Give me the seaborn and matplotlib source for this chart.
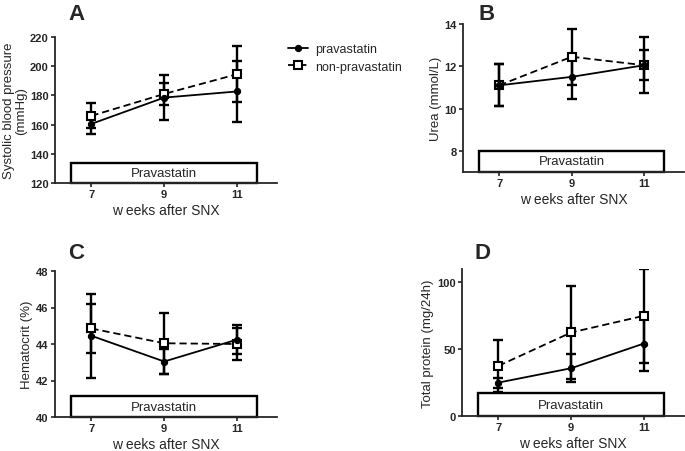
import pandas as pd
import seaborn as sns
import matplotlib.pyplot as plt
from matplotlib.patches import Rectangle

# Data (mean and SD per time point)
weeks = [7, 9, 11]
groups = ["pravastatin", "non-pravastatin"]

sbp_prava = [160.5, 178.5, 182.7]
sbp_prava_sd = [7.0, 15.3, 20.7]
sbp_non = [166.0, 181.0, 194.5]
sbp_non_sd = [8.5, 7.5, 19.0]

urea_prava = [11.1, 11.5, 12.05]
urea_prava_sd = [1.0, 1.05, 0.72]
urea_non = [11.1, 12.45, 12.05]
urea_non_sd = [1.0, 1.33, 1.33]

hct_prava = [44.45, 43.04, 44.24]
hct_prava_sd = [2.3, 0.66, 0.8]
hct_non = [44.85, 44.04, 44.0]
hct_non_sd = [1.33, 1.66, 0.87]

prot_prava = [25.0, 35.75, 54.25]
prot_prava_sd = [3.75, 10.5, 20.5]
prot_non = [37.5, 62.5, 75.0]
prot_non_sd = [19.25, 35.0, 35.0]

panels = [
    ("A", "Systolic blood pressure\n(mmHg)", sbp_prava, sbp_prava_sd, sbp_non, sbp_non_sd,
     (120, 220), [120, 140, 160, 180, 200, 220], 134),
    ("B", "Urea (mmol/L)", urea_prava, urea_prava_sd, urea_non, urea_non_sd,
     (7, 14), [8, 10, 12, 14], 8),
    ("C", "Hematocrit (%)", hct_prava, hct_prava_sd, hct_non, hct_non_sd,
     (40, 48), [40, 42, 44, 46, 48], 41.15),
    ("D", "Total protein (mg/24h)", prot_prava, prot_prava_sd, prot_non, prot_non_sd,
     (0, 110), [0, 50, 100], 17),
]

# axes rectangles in pixels: left, top, right, bottom
rects = [(55, 38, 277, 184), (463, 25, 684, 173), (55, 272, 277, 418), (462, 270, 684, 417)]
letter_pos = [(68, 4), (479, 4), (68, 243), (474, 243)]

sns.set_style("ticks")
plt.rcParams["font.family"] = ["Liberation Sans", "DejaVu Sans"]

W, H = 685, 452
fig = plt.figure(figsize=(W / 100, H / 100), dpi=100)

handles = {}
for (letter, ylabel, yp, ep, yn, en, ylim, yticks, box_top), (l, t, r, b), (lx, ly) in zip(
        panels, rects, letter_pos):
    ax = fig.add_axes([l / W, 1 - b / H, (r - l) / W, (b - t) / H])

    df_non = pd.DataFrame({"week": weeks, "value": yn})
    df_pra = pd.DataFrame({"week": weeks, "value": yp})

    ax.errorbar(weeks, yn, yerr=en, fmt="none", ecolor="black", elinewidth=1.7,
                capsize=3.5, capthick=1.7, zorder=3)
    ax.errorbar(weeks, yp, yerr=ep, fmt="none", ecolor="black", elinewidth=1.7,
                capsize=3.5, capthick=1.7, zorder=3)
    sns.lineplot(data=df_non, x="week", y="value", ax=ax, color="black", linewidth=1.3,
                 linestyle=(0, (4, 2.2)), marker="s", markersize=6, markerfacecolor="white",
                 markeredgecolor="black", markeredgewidth=1.5, label="non-pravastatin",
                 zorder=4)
    sns.lineplot(data=df_pra, x="week", y="value", ax=ax, color="black", linewidth=1.3,
                 marker="o", markersize=4.5, markeredgecolor="black", label="pravastatin",
                 zorder=5)
    h, lab = ax.get_legend_handles_labels()
    handles.update(dict(zip(lab, h)))
    ax.get_legend().remove()

    # treatment box
    ax.add_patch(Rectangle((6.45, ylim[0]), 5.1, box_top - ylim[0], facecolor="white",
                           edgecolor="black", linewidth=1.7, zorder=2, clip_on=False))
    ax.text(9, (ylim[0] + box_top) / 2, "Pravastatin", ha="center", va="center",
            fontsize=9.5, zorder=2.5)

    ax.set_xlim(6, 12.1)
    ax.set_ylim(*ylim)
    ax.set_xticks(weeks)
    ax.set_yticks(yticks)
    ax.set_xticklabels([str(w) for w in weeks], fontweight="bold", fontsize=8)
    ax.set_yticklabels([str(v) for v in yticks], fontweight="bold", fontsize=8)
    ax.tick_params(length=3, width=1.2, pad=1.5)
    for s in ["left", "bottom"]:
        ax.spines[s].set_linewidth(1.3)
    sns.despine(ax=ax)
    ax.set_xlabel("w eeks after SNX", fontsize=10, labelpad=3)
    ax.set_ylabel(ylabel, fontsize=9.5, labelpad=2, linespacing=1.0)

    fig.text(lx / W, 1 - ly / H, letter, fontsize=16, fontweight="bold", va="top")

fig.legend([handles[g] for g in groups], groups, loc="upper left",
           bbox_to_anchor=(283 / W, 1 - 39 / H), frameon=False, fontsize=9,
           handlelength=1.6, handletextpad=0.6, labelspacing=0.45, borderaxespad=0)

fig.savefig("out.png", dpi=100)
